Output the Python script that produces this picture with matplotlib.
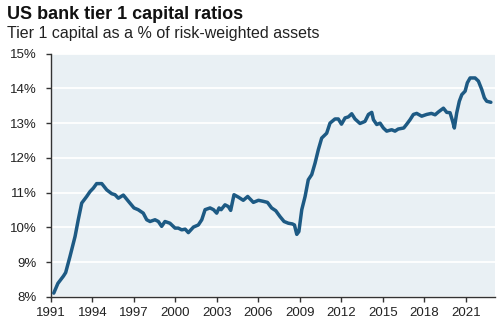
import matplotlib.pyplot as plt

# Tier 1 capital ratio of US banks, % of risk-weighted assets
years = [1991.2, 1991.5, 1991.9, 1992.06, 1992.37, 1992.74, 1992.97, 1993.22, 1993.58,
         1993.82, 1994.06, 1994.3, 1994.67, 1995.03, 1995.39, 1995.63, 1995.87, 1996.23,
         1996.6, 1997.0, 1997.3, 1997.67, 1997.92, 1998.16, 1998.52, 1998.76, 1999.0,
         1999.24, 1999.6, 1999.97, 2000.2, 2000.45, 2000.7, 2000.93, 2001.3, 2001.65,
         2001.9, 2002.14, 2002.5, 2002.75, 2002.98, 2003.15, 2003.3, 2003.58, 2003.82,
         2003.99, 2004.23, 2004.55, 2004.9, 2005.22, 2005.63, 2006.0, 2006.35, 2006.65,
         2006.95, 2007.25, 2007.56, 2007.85, 2008.16, 2008.45, 2008.6, 2008.77, 2008.92,
         2009.13, 2009.37, 2009.6, 2009.85, 2010.09, 2010.33, 2010.57, 2010.93, 2011.17,
         2011.53, 2011.77, 2012.0, 2012.26, 2012.5, 2012.74, 2012.98, 2013.34, 2013.7,
         2013.95, 2014.19, 2014.31, 2014.55, 2014.79, 2015.03, 2015.27, 2015.63, 2015.87,
         2016.1, 2016.5, 2016.7, 2016.96, 2017.2, 2017.44, 2017.8, 2018.16, 2018.5,
         2018.77, 2019.0, 2019.37, 2019.61, 2019.85, 2020.04, 2020.16, 2020.33, 2020.52,
         2020.7, 2020.94, 2021.1, 2021.3, 2021.66, 2021.9, 2022.14, 2022.33, 2022.5,
         2022.8]
ratio = [8.11, 8.39, 8.6, 8.7, 9.16, 9.74, 10.22, 10.7, 10.89,
         11.03, 11.13, 11.26, 11.26, 11.08, 10.97, 10.94, 10.84, 10.93,
         10.75, 10.56, 10.51, 10.41, 10.22, 10.17, 10.22, 10.17, 10.03,
         10.17, 10.12, 9.98, 9.98, 9.93, 9.95, 9.85, 10.01, 10.07,
         10.22, 10.51, 10.56, 10.51, 10.41, 10.56, 10.51, 10.65, 10.6,
         10.49, 10.94, 10.87, 10.78, 10.89, 10.72, 10.78, 10.75, 10.72,
         10.56, 10.48, 10.31, 10.17, 10.12, 10.1, 10.07, 9.8, 9.88,
         10.51, 10.89, 11.37, 11.52, 11.85, 12.24, 12.57, 12.71, 13.0,
         13.12, 13.12, 12.97, 13.15, 13.18, 13.27, 13.12, 12.99, 13.05,
         13.25, 13.31, 13.1, 12.96, 13.0, 12.86, 12.77, 12.81, 12.77,
         12.83, 12.86, 12.96, 13.1, 13.25, 13.28, 13.2, 13.25, 13.28,
         13.24, 13.32, 13.43, 13.31, 13.3, 13.05, 12.86, 13.29, 13.63,
         13.82, 13.92, 14.16, 14.3, 14.3, 14.21, 13.97, 13.73, 13.63,
         13.6]

xticks = list(range(1991, 2022, 3))
yticks = list(range(8, 16))

plt.rcParams["font.family"] = ["Liberation Sans", "DejaVu Sans"]

fig = plt.figure(figsize=(5, 3.27), dpi=100)
ax = fig.add_axes([0.102, 0.092, 0.888, 0.744])
ax.set_facecolor("#e9f0f4")

ax.plot(years, ratio, color="#1d5a84", lw=2.5, solid_joinstyle="round",
        solid_capstyle="round", zorder=3)

ax.set_xlim(1991, 2023.1)
ax.set_ylim(8, 15)
ax.set_xticks(xticks)
ax.set_yticks(yticks)
ax.set_yticklabels([f"{v}%" for v in yticks])
ax.grid(axis="y", color="white", lw=1.3)
ax.set_axisbelow(True)

for side in ("top", "right"):
    ax.spines[side].set_visible(False)
for side in ("left", "bottom"):
    ax.spines[side].set_color("#333333")
    ax.spines[side].set_linewidth(1.0)
ax.tick_params(axis="both", colors="#333333", labelcolor="#222222",
               labelsize=9.5, length=3.5, width=1.0)
ax.tick_params(axis="y", pad=7)
ax.tick_params(axis="x", pad=4)

fig.text(0.014, 0.943, "US bank tier 1 capital ratios", fontsize=13,
         fontweight="bold", color="#111111", va="baseline")
fig.text(0.014, 0.885, "Tier 1 capital as a % of risk-weighted assets",
         fontsize=11.5, color="#222222", va="baseline")

fig.savefig("out.png", dpi=100)
